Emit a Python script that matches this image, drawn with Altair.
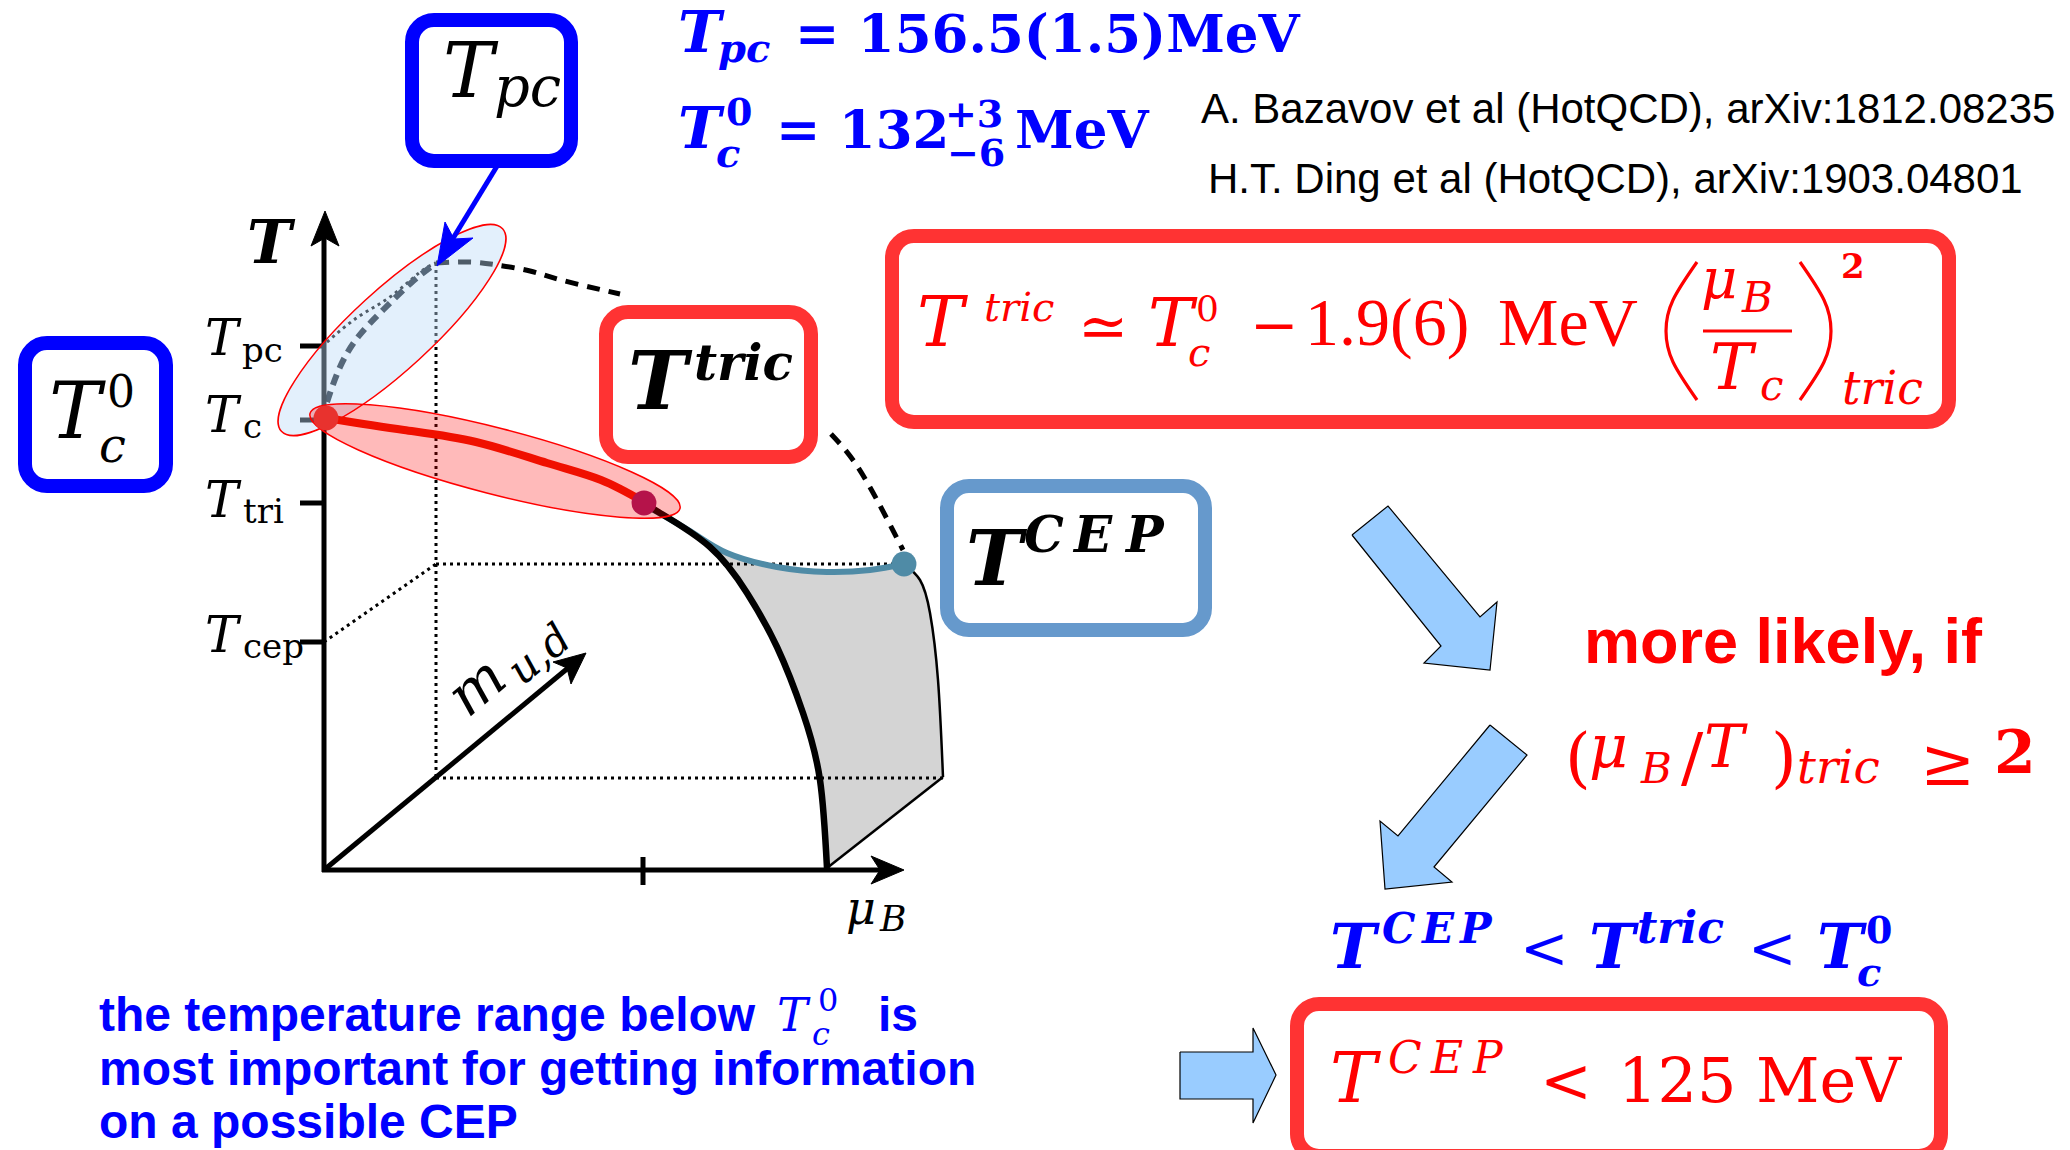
import altair as alt
import pandas as pd

W, H = 2070, 1150

# ---------------- data (pixel-space diagram coordinates) ----------------
# rounded boxes
box_x1 = [412, 25, 606, 947, 892, 1297]
box_x2 = [571, 166, 811, 1205, 1949, 1941]
box_y1 = [20, 343, 312, 486, 236, 1004]
box_y2 = [161, 486, 457, 630, 422, 1156]
box_col = ["#0000ff", "#0000ff", "#ff3333", "#6699cc", "#ff3333", "#ff3333"]

# curves: name -> list of (x, y)
dotted_segs = {
    "vert": [(436, 263), (436, 778)],
    "bottom": [(436, 778), (943, 778)],
    "mid": [(436, 564), (903, 564)],
    "diag": [(324, 642), (436, 564)],
    "pc": [(327, 342), (358, 317), (390, 297), (419, 273), (436, 263)],
}
dashed_black = {
    "arc1": [(436, 263), (470, 262), (497, 265), (530, 271), (561, 280), (620, 294)],
    "arc2": [(831, 434), (853, 460), (877, 500), (903, 550)],
}
dashed_navy = {
    "tc": [(327, 402), (340, 367), (358, 337), (383, 310), (411, 283), (436, 263)],
}
red_line = {"red": [(326, 418), (404, 430), (476, 442), (547, 463), (601, 480), (644, 502)]}
blue_line = {"blue": [(650, 508), (693, 533), (727, 553), (777, 567), (827, 572), (870, 570), (904, 564)]}
black_curve = {"first": [(644, 503), (660, 513), (710, 547), (747, 593), (777, 647), (803, 713), (820, 780), (827, 868)]}
thin_lines = {
    "edge": [(904, 564), (920, 580), (930, 613), (938, 680), (943, 777)],
    "base": [(943, 777), (827, 868)],
}
axes_lines = {
    "T": [(324, 872), (324, 234)],
    "mu": [(322, 870), (884, 870)],
    "m": [(324, 870), (568, 668)],
    "t_pc": [(300, 346), (324, 346)],
    "t_c": [(300, 420), (324, 420)],
    "t_tri": [(300, 503), (324, 503)],
    "t_cep": [(300, 642), (324, 642)],
    "t_mu": [(643, 857), (643, 885)],
}
tpc_arrow = {"tpc": [(502, 158), (452, 240)]}
parens = {
    "lp": [(1697, 262), (1673, 300), (1666, 331), (1673, 362), (1697, 400)],
    "rp": [(1800, 262), (1824, 300), (1831, 331), (1824, 362), (1800, 400)],
    "bar": [(1703, 331), (1792, 331)],
}

# filled polygons
gray_surface = [(827, 868), (820, 780), (803, 713), (777, 647), (747, 593), (715, 553), (690, 532),
                (727, 553), (777, 567), (827, 572), (870, 570), (904, 564), (920, 580), (930, 613),
                (938, 680), (943, 777), (827, 868)]
head_T = [(325, 211), (339, 246), (325, 238), (311, 246), (325, 211)]
head_mu = [(904, 870), (871, 856), (880, 870), (871, 884), (904, 870)]
head_m = [(586, 653), (553, 662), (567, 668), (571, 684), (586, 653)]
head_tpc = [(437, 266), (445, 222), (454, 239), (473, 238), (437, 266)]
big_arrows = {
    "a1": [(1352, 535), (1388, 506), (1480, 617), (1497, 602), (1490, 670), (1424, 663), (1441, 646), (1352, 535)],
    "a2": [(1490, 725), (1527, 755), (1434, 867), (1452, 882), (1385, 889), (1380, 821), (1398, 836), (1490, 725)],
    "a3": [(1180, 1052), (1253, 1052), (1253, 1028), (1276, 1075), (1253, 1123), (1253, 1099), (1180, 1099), (1180, 1052)],
}

# dots
dot_x = [326, 644, 904]
dot_y = [418, 503, 564]
dot_col = ["#e8322e", "#b5134a", "#4f8ba6"]

# ellipses (center)
ell_blue_c = (392, 330)
ell_red_c = (495, 461)

BLK, RED, BLU = "#000000", "#ff0000", "#0000ff"

# text pieces: (text, x, y_baseline, size, color)
txt_serif_it = [
    ("T", 443, 97, 76, BLK), ("pc", 494, 106, 56, BLK),
    ("T", 49, 438, 78, BLK), ("c", 99, 462, 48, BLK),
    ("T", 205, 355, 50, BLK), ("T", 205, 432, 50, BLK),
    ("T", 205, 517, 50, BLK), ("T", 205, 652, 50, BLK),
    ("μ", 846, 924, 46, BLK), ("B", 880, 931, 36, BLK),
    ("T", 917, 346, 70, RED), ("tric", 984, 321, 40, RED),
    ("T", 1148, 346, 68, RED), ("c", 1188, 366, 40, RED),
    ("μ", 1701, 298, 56, RED), ("B", 1742, 312, 42, RED),
    ("T", 1710, 389, 64, RED), ("c", 1760, 400, 42, RED),
    ("tric", 1842, 404, 46, RED),
    ("μ", 1589, 768, 60, RED), ("B", 1641, 783, 42, RED),
    ("T", 1704, 767, 60, RED), ("tric", 1797, 783, 47, RED),
    ("T", 1330, 1102, 70, RED), ("C", 1388, 1073, 44, RED),
    ("E", 1431, 1073, 44, RED), ("P", 1473, 1073, 44, RED),
    ("T", 777, 1031, 46, BLU), ("c", 812, 1045, 32, BLU),
]
txt_serif_bi = [
    ("T", 247, 263, 60, BLK),
    ("T", 628, 409, 80, BLK), ("tric", 694, 380, 50, BLK),
    ("T", 966, 585, 76, BLK), ("C", 1024, 552, 50, BLK),
    ("E", 1074, 552, 50, BLK), ("P", 1126, 552, 50, BLK),
    ("T", 678, 52, 58, BLU), ("pc", 718, 62, 40, BLU),
    ("T", 678, 148, 58, BLU), ("c", 716, 167, 40, BLU),
    ("T", 1330, 968, 62, BLU), ("C", 1382, 943, 42, BLU),
    ("E", 1422, 943, 42, BLU), ("P", 1460, 943, 42, BLU),
    ("T", 1589, 968, 62, BLU), ("tric", 1637, 943, 44, BLU),
    ("T", 1817, 968, 62, BLU), ("c", 1857, 986, 40, BLU),
]
txt_serif = [
    ("0", 107, 407, 44, BLK),
    ("pc", 242, 362, 34, BLK), ("c", 243, 438, 34, BLK),
    ("tri", 243, 523, 34, BLK), ("cep", 243, 658, 34, BLK),
    ("≃", 1078, 347, 60, RED), ("0", 1196, 321, 36, RED),
    ("−", 1250, 345, 58, RED),
    ("(", 1565, 780, 66, RED), ("/", 1681, 780, 66, RED), (")", 1771, 780, 66, RED),
    ("≥", 1920, 785, 66, RED),
    ("<", 1540, 1102, 62, RED), ("125 MeV", 1618, 1102, 62, RED),
    ("<", 1520, 968, 58, BLU), ("<", 1748, 968, 58, BLU),
    ("0", 818, 1011, 32, BLU),
]
txt_lib_serif = [
    ("1.9(6)", 1305, 345, 68, RED), ("MeV", 1498, 345, 68, RED),
]
txt_serif_b = [
    ("= 156.5(1.5)MeV", 795, 52, 53, BLU),
    ("0", 726, 125, 38, BLU), ("= 132", 776, 148, 53, BLU),
    ("+3", 945, 127, 38, BLU), ("−6", 947, 166, 38, BLU),
    ("MeV", 1015, 148, 53, BLU), ("0", 1866, 943, 38, BLU),
    ("2", 1841, 278, 34, RED), ("2", 1994, 773, 60, RED),
]
txt_sans = [
    ("A. Bazavov et al (HotQCD), arXiv:1812.08235", 1201, 123, 42, BLK),
    ("H.T. Ding et al (HotQCD), arXiv:1903.04801", 1208, 193, 42, BLK),
]
txt_sans_b = [
    ("more likely, if", 1584, 663, 63, RED),
    ("the temperature range below", 99, 1031, 48, BLU),
    ("is", 878, 1031, 48, BLU),
    ("most important for getting information", 99, 1085, 48, BLU),
    ("on a possible CEP", 99, 1138, 48, BLU),
]
rot_text = [("m", 478, 688, 58), ("u,d", 540, 655, 42)]

# ---------------- helpers ----------------
xs = alt.Scale(domain=[0, W], nice=False, zero=False)
ys = alt.Scale(domain=[0, H], nice=False, zero=False, reverse=True)


def XX(f="x"):
    return alt.X(f"{f}:Q", scale=xs, axis=None)


def YY(f="y"):
    return alt.Y(f"{f}:Q", scale=ys, axis=None)


def seg_df(d):
    rows = []
    for name, pts in d.items():
        for i, (x, y) in enumerate(pts):
            rows.append({"seg": name, "i": i, "x": x, "y": y})
    return pd.DataFrame(rows)


def lines(d, interp="natural", **mk):
    return alt.Chart(seg_df(d)).mark_line(interpolate=interp, **mk).encode(
        x=XX(), y=YY(), detail="seg:N", order="i:Q")


def poly(d, **mk):
    return alt.Chart(seg_df(d)).mark_line(interpolate="linear", **mk).encode(
        x=XX(), y=YY(), detail="seg:N", order="i:Q")


def texts(items, **mk):
    df = pd.DataFrame(items, columns=["t", "x", "y", "s", "c"])
    return alt.Chart(df).mark_text(align="left", baseline="alphabetic", **mk).encode(
        x=XX(), y=YY(), text="t:N",
        size=alt.Size("s:Q", scale=None), color=alt.Color("c:N", scale=None))


def ellipse(center, a, b, angle, fill, op):
    k = round(b / a, 4)
    path = f"M -1 0 A 1 {k} 0 1 1 1 0 A 1 {k} 0 1 1 -1 0 Z"
    df = pd.DataFrame({"x": [center[0]], "y": [center[1]]})
    return alt.Chart(df).mark_point(
        shape=path, size=(2 * a) ** 2, angle=angle, filled=True, fill=fill,
        fillOpacity=op, stroke="#ff0000", strokeWidth=1.5, opacity=1
    ).encode(x=XX(), y=YY())


# ---------------- layers ----------------
layers = []
layers.append(poly({"gray": gray_surface}, fill="#d4d4d4", stroke="#d4d4d4", strokeWidth=1))
layers.append(lines(dotted_segs, color="#000000", strokeWidth=3, strokeDash=[3, 4]))
layers.append(lines(dashed_black, color="#000000", strokeWidth=5, strokeDash=[13, 9]))
layers.append(lines(dashed_navy, color="#0d1520", strokeWidth=6, strokeDash=[11, 7]))
layers.append(lines(thin_lines, color="#000000", strokeWidth=2.5))
layers.append(lines(blue_line, color="#4f8ba6", strokeWidth=6))
layers.append(lines(black_curve, color="#000000", strokeWidth=6.5))
layers.append(lines(axes_lines, interp="linear", color="#000000", strokeWidth=5))
layers.append(poly({"hT": head_T, "hmu": head_mu, "hm": head_m}, fill="#000000", stroke="#000000", strokeWidth=1))
layers.append(ellipse(ell_blue_c, 150, 40, 317.5, "#bcdcf8", 0.42))
layers.append(ellipse(ell_red_c, 191, 33, 14.4, "#ff0000", 0.27))
layers.append(lines(red_line, color="#f01000", strokeWidth=8))
dots = pd.DataFrame({"x": dot_x, "y": dot_y, "c": dot_col})
layers.append(alt.Chart(dots).mark_circle(size=620, opacity=1).encode(
    x=XX(), y=YY(), color=alt.Color("c:N", scale=None)))
layers.append(lines(tpc_arrow, interp="linear", color="#0000ff", strokeWidth=5))
layers.append(poly({"htpc": head_tpc}, fill="#0000ff", stroke="#0000ff", strokeWidth=1))

boxes = pd.DataFrame({"x1": box_x1, "x2": box_x2, "y1": box_y1, "y2": box_y2, "c": box_col})
layers.append(alt.Chart(boxes).mark_rect(fill="#ffffff", strokeWidth=14, cornerRadius=22).encode(
    x=XX("x1"), x2="x2", y=YY("y1"), y2="y2", stroke=alt.Stroke("c:N", scale=None)))

layers.append(poly(big_arrows, fill="#99ccff", stroke="#000000", strokeWidth=1.2))
layers.append(lines(parens, color="#ff0000", strokeWidth=3.2))

layers.append(texts(txt_serif_it, font="DejaVu Serif", fontStyle="italic"))
layers.append(texts(txt_serif_bi, font="DejaVu Serif", fontStyle="italic", fontWeight="bold"))
layers.append(texts(txt_serif, font="DejaVu Serif"))
layers.append(texts(txt_lib_serif, font="Liberation Serif"))
layers.append(texts(txt_serif_b, font="DejaVu Serif", fontWeight="bold"))
layers.append(texts(txt_sans, font="Liberation Sans"))
layers.append(texts(txt_sans_b, font="Liberation Sans", fontWeight="bold"))

rot_df = pd.DataFrame(rot_text, columns=["t", "x", "y", "s"])
layers.append(alt.Chart(rot_df).mark_text(
    font="DejaVu Serif", fontStyle="italic", angle=320, align="center", baseline="middle",
    color="#000000").encode(x=XX(), y=YY(), text="t:N", size=alt.Size("s:Q", scale=None)))

chart = alt.layer(*layers).properties(
    width=W, height=H, padding=0, autosize="none", background="#ffffff"
).configure_view(stroke=None)

chart.save("out.html", embed_options={"renderer": "svg", "actions": False})
